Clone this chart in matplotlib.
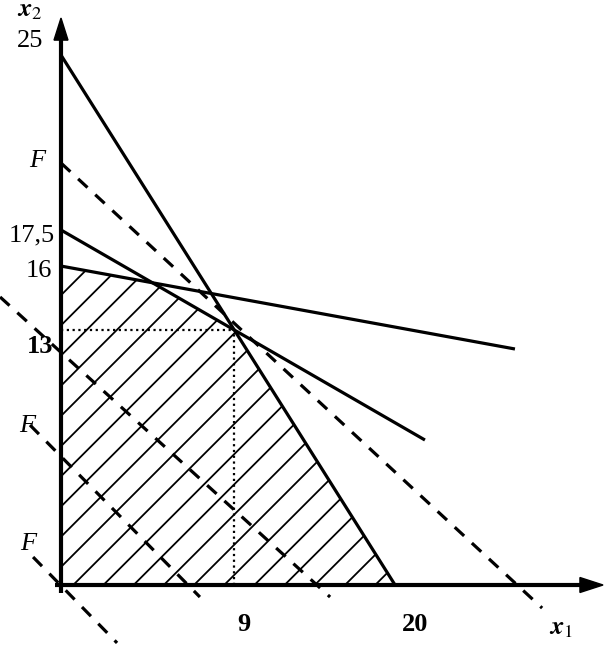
import matplotlib
matplotlib.use("Agg")
import matplotlib.pyplot as plt
import numpy as np
from matplotlib.patches import Polygon
from matplotlib.collections import LineCollection

plt.rcParams['font.family'] = ['Liberation Serif', 'DejaVu Serif']
plt.rcParams['mathtext.fontset'] = 'stix'

# constraint lines (schematic drawing units), endpoints
c1_x = [0.0, 17.22]
c1_y = [26.9, 0.0]
c2_x = [0.0, 18.76]
c2_y = [18.02, 7.36]
c3_x = [0.0, 23.4]
c3_y = [16.19, 11.98]

# objective level lines F (dashed)
f_top_x = [0.0, 24.8]
f_top_y = [21.42, -1.17]
f_mid_x = [-3.14, 13.87]
f_mid_y = [14.62, -0.61]
f_low_x = [-1.6, 7.16]
f_low_y = [8.12, -0.61]
f_zero_x = [-1.44, 2.89]
f_zero_y = [1.42, -2.94]

# axis labels and their positions
y_labels = ['25', '17,5', '16', '13']
y_label_pos = [(-1.6, 27.61), (-1.49, 17.72), (-1.13, 15.94), (-1.08, 12.13)]
f_label_pos = [(-1.24, 21.52), (-1.75, 8.07), (-1.70, 2.08)]
x_labels = ['9', '20']
x_label_pos = [(9.43, -2.03), (18.25, -2.03)]

sx, sy = 19.4, 19.7  # pixels per unit
x0, y0 = 61, 585     # origin in pixels
W, H = 606, 648

fig = plt.figure(figsize=(W / 100, H / 100), dpi=100)
ax = fig.add_axes([0, 0, 1, 1])
ax.set_xlim(-x0 / sx, (W - x0) / sx)
ax.set_ylim((y0 - H) / sy, y0 / sy)
ax.axis('off')


def line_coef(xs, ys):
    k = (ys[1] - ys[0]) / (xs[1] - xs[0])
    return k, ys[0] - k * xs[0]


def intersect(a, b):
    k1, b1 = line_coef(*a)
    k2, b2 = line_coef(*b)
    x = (b2 - b1) / (k1 - k2)
    return x, k1 * x + b1


opt = intersect((c1_x, c1_y), (c2_x, c2_y))
corner = intersect((c2_x, c2_y), (c3_x, c3_y))

# feasible region, hatched
region = Polygon([(0, 0), (0, c3_y[0]), corner, opt, (c1_x[1], 0)],
                 closed=True, facecolor='none', edgecolor='none')
ax.add_patch(region)
k_h = sx / sy
offs = 0.914 + 1.533 * np.arange(-13, 12)
segs = [[(-1, -k_h + c), (30, 30 * k_h + c)] for c in offs]
hatch = LineCollection(segs, colors='black', linewidths=1.3)
ax.add_collection(hatch)
hatch.set_clip_path(region)

lw = 2.3
ax.plot(c1_x, c1_y, color='black', lw=lw, solid_capstyle='butt')
ax.plot(c2_x, c2_y, color='black', lw=lw, solid_capstyle='butt')
ax.plot(c3_x, c3_y, color='black', lw=lw, solid_capstyle='butt')

for xs, ys in [(f_top_x, f_top_y), (f_mid_x, f_mid_y),
               (f_low_x, f_low_y), (f_zero_x, f_zero_y)]:
    ax.plot(xs, ys, color='black', lw=lw, linestyle=(0, (4, 3.3)),
            dash_capstyle='butt')

# dotted projections of the optimum
ax.plot([0, opt[0]], [opt[1], opt[1]], color='black', lw=1.6,
        linestyle=(0, (1, 1.6)))
ax.plot([opt[0], opt[0]], [0, opt[1]], color='black', lw=1.6,
        linestyle=(0, (1, 1.6)))

# axes with arrows
ax.plot([-0.3, 27.0], [0, 0], color='black', lw=3.0, solid_capstyle='butt')
ax.plot([0, 0], [-0.4, 27.8], color='black', lw=3.0, solid_capstyle='butt')
ax.add_patch(Polygon([(27.94, 0), (26.75, 0.38), (26.75, -0.38)],
                     closed=True, color='black'))
ax.add_patch(Polygon([(0, 28.78), (-0.36, 27.66), (0.36, 27.66)],
                     closed=True, color='black'))

fs = 19
for lab, (x, y) in zip(y_labels, y_label_pos):
    ax.text(x, y, lab, fontsize=fs, ha='center', va='center',
            fontweight='bold' if lab == '13' else 'normal')
for x, y in f_label_pos:
    ax.text(x, y, 'F', fontsize=fs, ha='center', va='center', style='italic')
for lab, (x, y) in zip(x_labels, x_label_pos):
    ax.text(x, y, lab, fontsize=fs, ha='center', va='center', fontweight='bold')
ax.text(-1.6, 29.14, r'$\boldsymbol{x}_2$', fontsize=fs, ha='center', va='center')
ax.text(25.77, -2.23, r'$\boldsymbol{x}_1$', fontsize=fs, ha='center', va='center')

fig.savefig('out.png', dpi=100)
